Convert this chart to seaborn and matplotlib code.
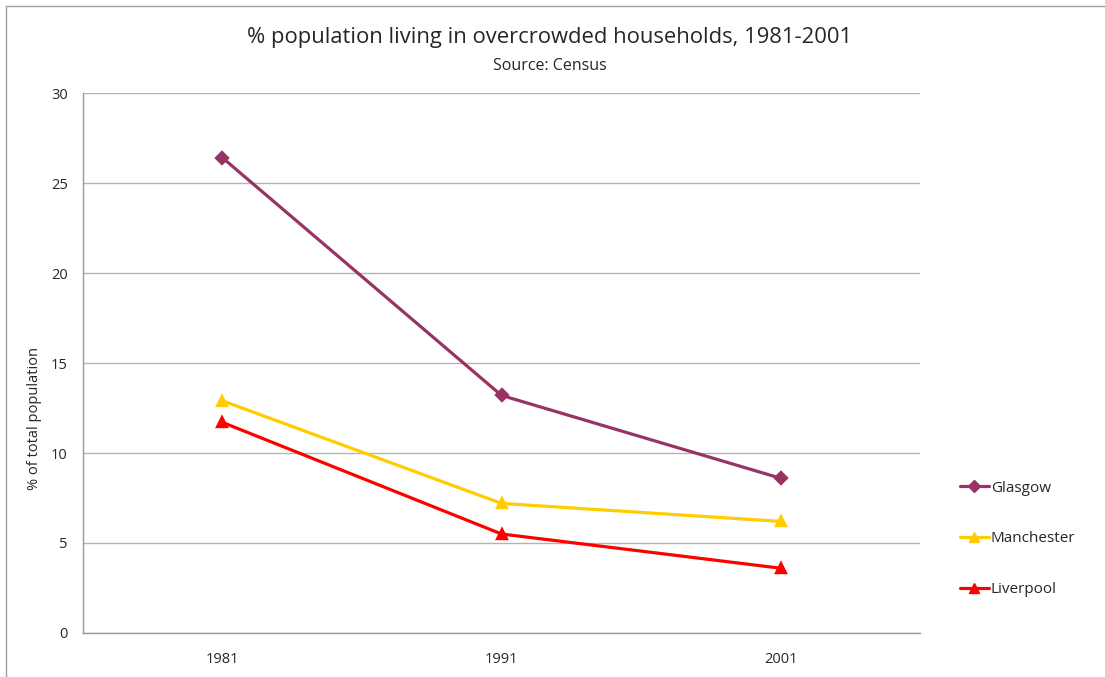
import pandas as pd
import seaborn as sns
import matplotlib.pyplot as plt
from matplotlib.lines import Line2D

# values
years = ['1981', '1991', '2001']
glasgow = [26.4, 13.2, 8.6]
manchester = [12.9, 7.2, 6.2]
liverpool = [11.7, 5.5, 3.6]
cities = ['Glasgow', 'Manchester', 'Liverpool']
colours = ['#993366', '#FFCC00', '#FF0000']
markers = ['D', '^', '^']

df = pd.DataFrame({
    'year': years * 3,
    'value': glasgow + manchester + liverpool,
    'city': [c for c in cities for _ in years],
})

sns.set_style('white')
plt.rcParams['font.family'] = ['Open Sans', 'DejaVu Sans']

fig = plt.figure(figsize=(11.05, 6.77), dpi=100)
ax = fig.add_axes([0.0751, 0.065, 0.7575, 0.7976])

sns.pointplot(data=df, x='year', y='value', hue='city', order=years,
              hue_order=cities, palette=colours, markers=markers,
              linestyles='-', errorbar=None, markersize=6.5, linewidth=2.3,
              ax=ax, legend=False)

ax.set_xlim(-0.5, 2.5)
ax.set_ylim(0, 30)
ax.set_yticks(range(0, 31, 5))
ax.yaxis.grid(True, color='#b3b3b3', linewidth=1)
ax.set_axisbelow(True)
for s in ['top', 'right']:
    ax.spines[s].set_visible(False)
for s in ['left', 'bottom']:
    ax.spines[s].set_color('#9a9a9a')
    ax.spines[s].set_linewidth(1)

ax.set_xticks([-0.5, 0.5, 1.5, 2.5], minor=True)
ax.tick_params(axis='x', which='major', length=0, pad=14, labelsize=10.5)
ax.tick_params(axis='x', which='minor', length=5, color='#9a9a9a', direction='out')
ax.tick_params(axis='y', length=5, color='#9a9a9a', direction='out', labelsize=10.5, pad=6)
ax.set_xlabel('')
ax.set_ylabel('')

fig.text(35 / 1105, 1 - 418 / 677, '% of total population', rotation=90,
         ha='center', va='center', fontsize=10.5)
fig.text(550 / 1105, 1 - 38 / 677, '% population living in overcrowded households, 1981-2001',
         ha='center', va='center', fontsize=15.8)
fig.text(550 / 1105, 1 - 66 / 677, 'Source: Census', ha='center', va='center', fontsize=11.5)

handles = [Line2D([], [], color=c, marker=m, markersize=6.5, linewidth=2.3)
           for c, m in zip(colours, markers)]
fig.legend(handles, cities, loc='center left', bbox_to_anchor=(0.856, 1 - 539 / 677),
           frameon=False, fontsize=11, handlelength=1.9, handletextpad=0.15,
           labelspacing=2.35)

# chart area border (left and top edges visible)
fig.add_artist(Line2D([6 / 1105, 6 / 1105], [0, 1 - 6 / 677], color='#a0a0a0', linewidth=1,
                      transform=fig.transFigure))
fig.add_artist(Line2D([6 / 1105, 1], [1 - 6 / 677, 1 - 6 / 677], color='#a0a0a0', linewidth=1,
                      transform=fig.transFigure))

fig.savefig('out.png', dpi=100)
